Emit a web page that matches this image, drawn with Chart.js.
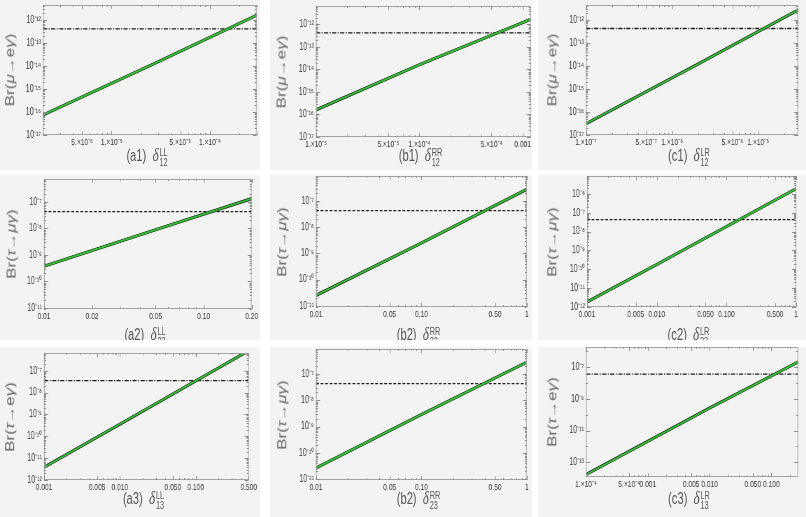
<!DOCTYPE html>
<html>
<head>
<meta charset="utf-8">
<script src="https://cdn.jsdelivr.net/npm/chart.js@4.4.1/dist/chart.umd.min.js"></script>
<style>
  body { margin: 0; background: #fff; }
  #wrap { position: relative; width: 806px; height: 517px; overflow: hidden; font-family: "Liberation Sans", Arial, sans-serif; }
  .panel { position: absolute; background: #f3f3f3; overflow: hidden; }
  .inner { position: absolute; left: 0; top: 0; transform-origin: 0 0; }
  .inner canvas { position: absolute; left: 0; top: 0; }
  .cap { position: absolute; transform: translate(-50%, -50%); font-size: 16px; color: #555; white-space: nowrap; line-height: 1; }
  .cap .d { font-family: "Liberation Serif", serif; font-style: italic; font-size: 19px; }
  .cap .ss { display: inline-block; vertical-align: -5px; font-size: 10.5px; line-height: 10px; margin-left: 1px; }
  .cap .ss span { display: block; }
  .ytitle { position: absolute; transform: translate(-50%, -50%) rotate(-90deg); font-size: 17px; color: #666; white-space: nowrap; line-height: 1; }
</style>
</head>
<body>
<div id="wrap"></div>
<script>
// experimental upper limits (horizontal lines)
const megLimit = 4.2e-13;   // mu -> e gamma
const tmgLimit = 4.3e-8;    // tau -> mu gamma
const tegLimit = 3.5e-8;    // tau -> e gamma

// (a1) Br(mu->e gamma) vs delta12 LL
const a1Delta = [2e-6, 2.5e-5, 3e-4];
const a1Br = [7.4e-17, 1.1e-14, 1.65e-12];
const a1XRange = [2e-6, 3e-4];
const a1YRange = [1e-17, 4.6e-12];
const a1XTicks = [5e-6, 1e-5, 5e-5, 1e-4];
const a1XLabels = ['5.×10⁻⁶', '1.×10⁻⁵', '5.×10⁻⁵', '1.×10⁻⁴'];
const a1YExp = [-17, -16, -15, -14, -13, -12];

// (b1) Br(mu->e gamma) vs delta12 RR
const b1Delta = [1e-5, 1e-4, 1.2e-3];
const b1Br = [1.6e-16, 1.6e-14, 1.68e-12];
const b1XRange = [1e-5, 1.2e-3];
const b1YRange = [1e-17, 6.5e-12];
const b1XTicks = [1e-5, 5e-5, 1e-4, 5e-4, 1e-3];
const b1XLabels = ['1.×10⁻⁵', '5.×10⁻⁵', '1.×10⁻⁴', '5.×10⁻⁴', '0.001'];
const b1YExp = [-17, -16, -15, -14, -13, -12];

// (c1) Br(mu->e gamma) vs delta12 LR
const c1Delta = [1e-7, 2e-6, 2.9e-5];
const c1Br = [3.1e-17, 1.2e-14, 2.7e-12];
const c1XRange = [1e-7, 2.9e-5];
const c1YRange = [1e-17, 4.4e-12];
const c1XTicks = [1e-7, 5e-7, 1e-6, 5e-6, 1e-5];
const c1XLabels = ['1.×10⁻⁷', '5.×10⁻⁷', '1.×10⁻⁶', '5.×10⁻⁶', '1.×10⁻⁵'];
const c1YExp = [-17, -16, -15, -14, -13, -12];

// (a2) Br(tau->mu gamma) vs delta23 LL
const a2Delta = [0.01, 0.05, 0.2];
const a2Br = [3.7e-10, 8.9e-9, 1.34e-7];
const a2XRange = [0.01, 0.2];
const a2YRange = [9e-12, 7.4e-7];
const a2XTicks = [0.01, 0.02, 0.05, 0.1, 0.2];
const a2XLabels = ['0.01', '0.02', '0.05', '0.10', '0.20'];
const a2YExp = [-11, -10, -9, -8, -7];

// (b2) Br(tau->mu gamma) vs delta23 RR
const b2Delta = [0.01, 0.1, 1];
const b2Br = [2.5e-11, 2.5e-9, 2.8e-7];
const b2XRange = [0.01, 1];
const b2YRange = [9e-12, 9e-7];
const b2XTicks = [0.01, 0.05, 0.1, 0.5, 1];
const b2XLabels = ['0.01', '0.05', '0.10', '0.50', '1'];
const b2YExp = [-11, -10, -9, -8, -7];

// (c2) Br(tau->mu gamma) vs delta23 LR
const c2Delta = [0.001, 0.01, 1];
const c2Br = [1.85e-12, 1.8e-10, 1.9e-6];
const c2XRange = [0.001, 1];
const c2YRange = [1e-12, 9e-6];
const c2XTicks = [0.001, 0.005, 0.01, 0.05, 0.1, 0.5, 1];
const c2XLabels = ['0.001', '0.005', '0.010', '0.050', '0.100', '0.500', '1'];
const c2YExp = [-12, -11, -10, -9, -8, -7, -6];

// (a3) Br(tau->e gamma) vs delta13 LL
const a3Delta = [0.001, 0.01, 0.5];
const a3Br = [3.8e-12, 3.6e-10, 8.3e-7];
const a3XRange = [0.001, 0.5];
const a3YRange = [1e-12, 6.5e-7];
const a3XTicks = [0.001, 0.005, 0.01, 0.05, 0.1, 0.5];
const a3XLabels = ['0.001', '0.005', '0.010', '0.050', '0.100', '0.500'];
const a3YExp = [-12, -11, -10, -9, -8, -7];

// (b2, third row) Br(tau->mu gamma) vs delta23 RR
const b3Delta = [0.01, 0.1, 1];
const b3Br = [2.7e-11, 2.9e-9, 2.8e-7];
const b3XRange = [0.01, 1];
const b3YRange = [9.4e-12, 8.9e-7];
const b3XTicks = [0.01, 0.05, 0.1, 0.5, 1];
const b3XLabels = ['0.01', '0.05', '0.10', '0.50', '1'];
const b3YExp = [-11, -10, -9, -8, -7];

// (c3) Br(tau->e gamma) vs delta13 LR
const c3Delta = [1e-4, 0.01, 0.27];
const c3Br = [1.7e-14, 2.6e-10, 2.05e-7];
const c3XRange = [1e-4, 0.27];
const c3YRange = [1.2e-14, 1.8e-6];
const c3XTicks = [1e-4, 5e-4, 0.001, 0.005, 0.01, 0.05, 0.1];
const c3XLabels = ['1.×10⁻⁴', '5.×10⁻⁴', '0.001', '0.005', '0.010', '0.050', '0.100'];
const c3YExp = [-13, -11, -9, -7];

// figure is squeezed horizontally
const S = 0.7;
const dashDot = [6, 2, 1.5, 2];
const dashed = [4, 2.5];
const muEG = 'Br(<i>μ</i>→e<i>γ</i>)';
const tauMuG = 'Br(<i>τ</i>→<i>μγ</i>)';
const tauEG = 'Br(<i>τ</i>→e<i>γ</i>)';

const panels = [
  { tag: '(a1)', sup: 'LL', sub: '12', title: muEG, x: a1Delta, y: a1Br, lim: megLimit, dash: dashDot,
    xr: a1XRange, yr: a1YRange, xt: a1XTicks, xl: a1XLabels, ye: a1YExp,
    box: [0, 0, 260, 170], plot: [43, 5, 257, 135], capY: 156, titleX: 10 },
  { tag: '(b1)', sup: 'RR', sub: '12', title: muEG, x: b1Delta, y: b1Br, lim: megLimit, dash: dashDot,
    xr: b1XRange, yr: b1YRange, xt: b1XTicks, xl: b1XLabels, ye: b1YExp,
    box: [270, 0, 262, 170], plot: [316, 6, 531, 137], capY: 156, titleX: 281 },
  { tag: '(c1)', sup: 'LR', sub: '12', title: muEG, x: c1Delta, y: c1Br, lim: megLimit, dash: dashDot,
    xr: c1XRange, yr: c1YRange, xt: c1XTicks, xl: c1XLabels, ye: c1YExp,
    box: [538, 0, 268, 170], plot: [586, 5, 798, 135], capY: 156, titleX: 552 },
  { tag: '(a2)', sup: 'LL', sub: '23', title: tauMuG, x: a2Delta, y: a2Br, lim: tmgLimit, dash: dashed,
    xr: a2XRange, yr: a2YRange, xt: a2XTicks, xl: a2XLabels, ye: a2YExp,
    box: [0, 175, 260, 165], plot: [44, 179, 252, 309], capY: 335, titleX: 11 },
  { tag: '(b2)', sup: 'RR', sub: '23', title: tauMuG, x: b2Delta, y: b2Br, lim: tmgLimit, dash: dashed,
    xr: b2XRange, yr: b2YRange, xt: b2XTicks, xl: b2XLabels, ye: b2YExp,
    box: [270, 175, 262, 165], plot: [316, 176, 527, 307], capY: 335, titleX: 282 },
  { tag: '(c2)', sup: 'LR', sub: '23', title: tauMuG, x: c2Delta, y: c2Br, lim: tmgLimit, dash: dashed,
    xr: c2XRange, yr: c2YRange, xt: c2XTicks, xl: c2XLabels, ye: c2YExp,
    box: [538, 175, 268, 165], plot: [587, 176, 796, 307], capY: 335, titleX: 552 },
  { tag: '(a3)', sup: 'LL', sub: '13', title: tauEG, x: a3Delta, y: a3Br, lim: tegLimit, dash: dashDot,
    xr: a3XRange, yr: a3YRange, xt: a3XTicks, xl: a3XLabels, ye: a3YExp,
    box: [0, 347, 260, 170], plot: [44, 353, 249, 480], capY: 499, titleX: 10 },
  { tag: '(b2)', sup: 'RR', sub: '23', title: tauMuG, x: b3Delta, y: b3Br, lim: tmgLimit, dash: dashed,
    xr: b3XRange, yr: b3YRange, xt: b3XTicks, xl: b3XLabels, ye: b3YExp,
    box: [270, 347, 262, 170], plot: [316, 349, 527, 480], capY: 499, titleX: 282 },
  { tag: '(c3)', sup: 'LR', sub: '13', title: tauEG, x: c3Delta, y: c3Br, lim: tegLimit, dash: dashDot,
    xr: c3XRange, yr: c3YRange, xt: c3XTicks, xl: c3XLabels, ye: c3YExp,
    box: [538, 347, 268, 170], plot: [586, 347, 798, 477], capY: 499, titleX: 552 }
];

const supDigits = { '-': '⁻', '0': '⁰', '1': '¹', '2': '²', '3': '³', '4': '⁴', '5': '⁵', '6': '⁶', '7': '⁷', '8': '⁸', '9': '⁹' };
function powLabel(e) {
  return '10' + String(e).split('').map(c => supDigits[c]).join('');
}

// frame + inward tick marks on all four sides (Mathematica style)
const frameTicks = {
  id: 'frameTicks',
  afterDatasetsDraw(chart, args, opts) {
    const { ctx, chartArea: a, scales } = chart;
    ctx.save();
    ctx.strokeStyle = '#a3a3a3';
    ctx.lineWidth = 1;
    ctx.strokeRect(a.left + 0.5, a.top + 0.5, a.width - 1, a.height - 1);
    ctx.strokeStyle = '#8a8a8a';
    ctx.beginPath();
    ['x', 'y'].forEach(k => {
      const sc = scales[k];
      const major = opts[k];
      const lo = Math.floor(Math.log10(sc.min)), hi = Math.ceil(Math.log10(sc.max));
      const step = k === 'y' && major.length > 1 && Math.abs(Math.log10(major[1] / major[0]) - 2) < 0.1 ? 2 : 1;
      for (let e = lo; e <= hi; e++) {
        for (let m = 1; m < 10; m++) {
          const v = m * Math.pow(10, e);
          if (v < sc.min * 0.999 || v > sc.max * 1.001) continue;
          if (step === 2 && m > 1) continue;
          const isMajor = major.some(t => Math.abs(t / v - 1) < 1e-6);
          const p = Math.round(sc.getPixelForValue(v)) + 0.5;
          if (k === 'x') {
            const len = isMajor ? 4 : 2;
            ctx.moveTo(p, a.bottom); ctx.lineTo(p, a.bottom - len);
            ctx.moveTo(p, a.top); ctx.lineTo(p, a.top + len);
          } else {
            const len = (isMajor ? 4 : 2) / S;
            ctx.moveTo(a.left, p); ctx.lineTo(a.left + len, p);
            ctx.moveTo(a.right, p); ctx.lineTo(a.right - len, p);
          }
        }
      }
    });
    ctx.stroke();
    ctx.restore();
  }
};

const wrap = document.getElementById('wrap');

panels.forEach(function (p) {
  const [bl, bt, bw, bh] = p.box;
  const [pl, pt, pr, pb] = p.plot;
  const W = Math.round(bw / S);

  const panel = document.createElement('div');
  panel.className = 'panel';
  panel.style.cssText = `left:${bl}px;top:${bt}px;width:${bw}px;height:${bh}px;`;
  const inner = document.createElement('div');
  inner.className = 'inner';
  inner.style.cssText = `width:${W}px;height:${bh}px;transform:scaleX(${S});`;
  panel.appendChild(inner);
  wrap.appendChild(panel);

  const canvas = document.createElement('canvas');
  canvas.width = W;
  canvas.height = bh;
  inner.appendChild(canvas);

  // y axis title
  const yt = document.createElement('div');
  yt.className = 'ytitle';
  yt.innerHTML = p.title;
  yt.style.left = ((p.titleX - bl) / S) + 'px';
  yt.style.top = ((pt + pb) / 2 - bt) + 'px';
  inner.appendChild(yt);

  // caption under the plot
  const cap = document.createElement('div');
  cap.className = 'cap';
  cap.innerHTML = `${p.tag}&nbsp;&nbsp;<span class="d">δ</span><span class="ss"><span>${p.sup}</span><span>${p.sub}</span></span>`;
  cap.style.left = (((pl + pr) / 2 - 3 - bl) / S) + 'px';
  cap.style.top = (p.capY - bt) + 'px';
  inner.appendChild(cap);

  const pts = p.x.map((v, i) => ({ x: v, y: p.y[i] }));
  const limPts = p.xr.map(v => ({ x: v, y: p.lim }));
  const yTicks = p.ye.map(e => Math.pow(10, e));
  const yLabels = p.ye.map(powLabel);

  new Chart(canvas, {
    type: 'scatter',
    data: {
      datasets: [
        { data: pts, showLine: true, borderColor: '#33c233', borderWidth: 2, pointRadius: 0 },
        { data: pts, showLine: true, borderColor: '#1a1a1a', borderWidth: 3.2, pointRadius: 0 },
        { data: limPts, showLine: true, borderColor: '#1a1a1a', borderWidth: 1.3, borderDash: p.dash, pointRadius: 0 }
      ]
    },
    options: {
      responsive: false,
      animation: false,
      events: [],
      layout: { padding: { top: pt - bt, right: (bl + bw - pr) / S, left: 0, bottom: 0 } },
      plugins: {
        legend: { display: false },
        tooltip: { enabled: false },
        frameTicks: { x: p.xt, y: yTicks }
      },
      scales: {
        x: {
          type: 'logarithmic',
          min: p.xr[0],
          max: p.xr[1],
          grid: { display: false, drawTicks: false },
          border: { display: false },
          afterBuildTicks: s => { s.ticks = p.xt.map(v => ({ value: v })); },
          afterFit: s => { s.height = bt + bh - pb; s.paddingLeft = 0; s.paddingRight = 0; },
          ticks: {
            autoSkip: false, maxRotation: 0, minRotation: 0, padding: 2,
            color: '#333', font: { size: 9.5, family: 'Liberation Sans' },
            callback: (v, i) => p.xl[i]
          }
        },
        y: {
          type: 'logarithmic',
          min: p.yr[0],
          max: p.yr[1],
          grid: { display: false, drawTicks: false },
          border: { display: false },
          afterBuildTicks: s => { s.ticks = yTicks.map(v => ({ value: v })); },
          afterFit: s => { s.width = (pl - bl) / S; s.paddingTop = 0; s.paddingBottom = 0; },
          ticks: {
            autoSkip: false, padding: 3,
            color: '#333', font: { size: 10, family: 'Liberation Sans' },
            callback: (v, i) => yLabels[i]
          }
        }
      }
    },
    plugins: [frameTicks]
  });
});
</script>
</body>
</html>
